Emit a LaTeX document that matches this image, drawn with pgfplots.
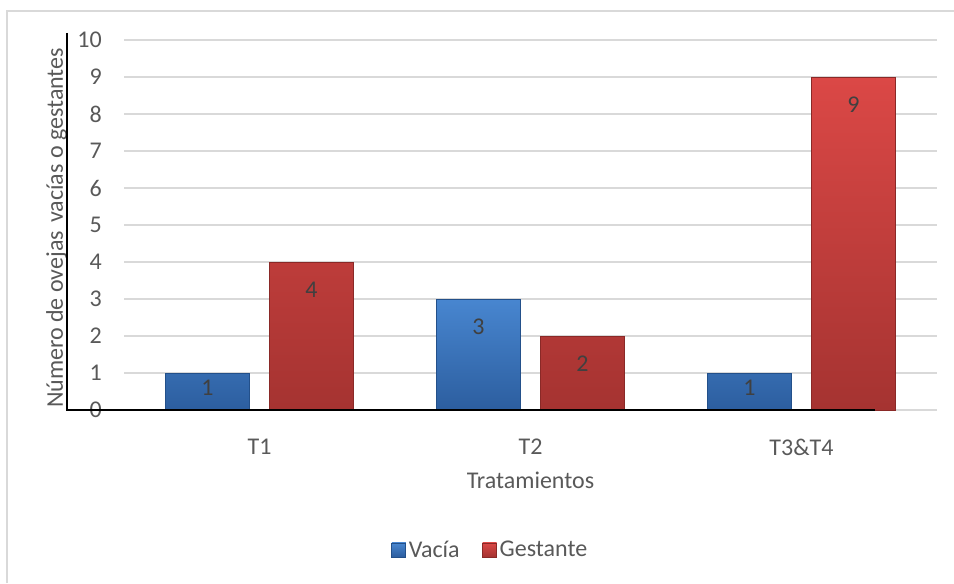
\documentclass[border=0pt]{standalone}
\usepackage{fontspec}
\setmainfont{Carlito}
\usepackage{pgfplots}
\pgfplotsset{compat=1.18}
\definecolor{txt}{HTML}{595959}
\definecolor{lbl}{HTML}{404040}
\definecolor{grd}{HTML}{D9D9D9}
\definecolor{bluetop}{HTML}{4886D0}
\definecolor{bluebot}{HTML}{2C5E9F}
\definecolor{blueedge}{HTML}{23508A}
\definecolor{redtop}{HTML}{DB4846}
\definecolor{redbot}{HTML}{A53331}
\definecolor{rededge}{HTML}{8A2927}
\begin{document}
\begin{tikzpicture}
\path[use as bounding box] (0,0) rectangle (715.5pt,437.25pt);
\draw[grd, line width=1.1pt] (5.25pt,0pt) -- (5.25pt,429pt) -- (715.5pt,429pt);
\begin{axis}[
  at={(93pt,129.75pt)}, anchor=south west,
  scale only axis, width=609.75pt, height=277.5pt,
  font=\fontsize{18}{21}\selectfont,
  /pgf/number format/assume math mode=true,
  ybar, bar width=0.31,
  xmin=-0.5, xmax=2.5, ymin=0, ymax=10,
  xtick={0,1,2}, xticklabels={T1,T2,T3\&T4},
  ytick={0,1,...,10},
  major tick length=0pt,
  axis line style={draw=none},
  ymajorgrids, grid style={grd, line width=0.9pt},
  ticklabel style={text=txt},
  yticklabel style={anchor=east, inner sep=0pt, xshift=-16.5pt},
  xticklabel style={anchor=center, yshift=-27.75pt},
  xlabel={Tratamientos},
  xlabel style={at={(axis description cs:0.5,-0.189)}, anchor=center, text=txt},
  ylabel={Número de ovejas\,\,vacías o gestantes},
  ylabel style={at={(axis description cs:-0.083,0.492)}, anchor=center, text=txt},
  legend style={at={(axis description cs:0.451,-0.378)}, anchor=center, draw=none,
    legend columns=2, text=txt, font=\fontsize{18}{21}\selectfont,
    /tikz/every even column/.append style={column sep=15pt},
    inner sep=0pt, nodes={inner sep=2pt}},
  legend image code/.code={\draw[#1] (0pt,-5.25pt) rectangle (10.5pt,5.25pt);},
  nodes near coords,
  visualization depends on={rawy \as \rawy},
  nodes near coords style={anchor=center, text=lbl, font=\fontsize{18}{21}\selectfont,
    yshift={-min(21,\rawy*11)}},
  clip=false,
]
\addplot[bar shift=0pt, draw=blueedge, line width=0.5pt, top color=bluetop, bottom color=bluebot]
  coordinates {(-0.192,1) (0.808,3) (1.808,1)};
\addplot[bar shift=0pt, draw=rededge, line width=0.5pt, top color=redtop, bottom color=redbot]
  coordinates {(0.192,4) (1.192,2) (2.192,9)};
\legend{Vacía, Gestante}
\end{axis}
\draw[black, line width=1.5pt] (50.25pt,412.5pt) -- (50.25pt,129.75pt) -- (656.25pt,129.75pt);
\end{tikzpicture}
\end{document}
